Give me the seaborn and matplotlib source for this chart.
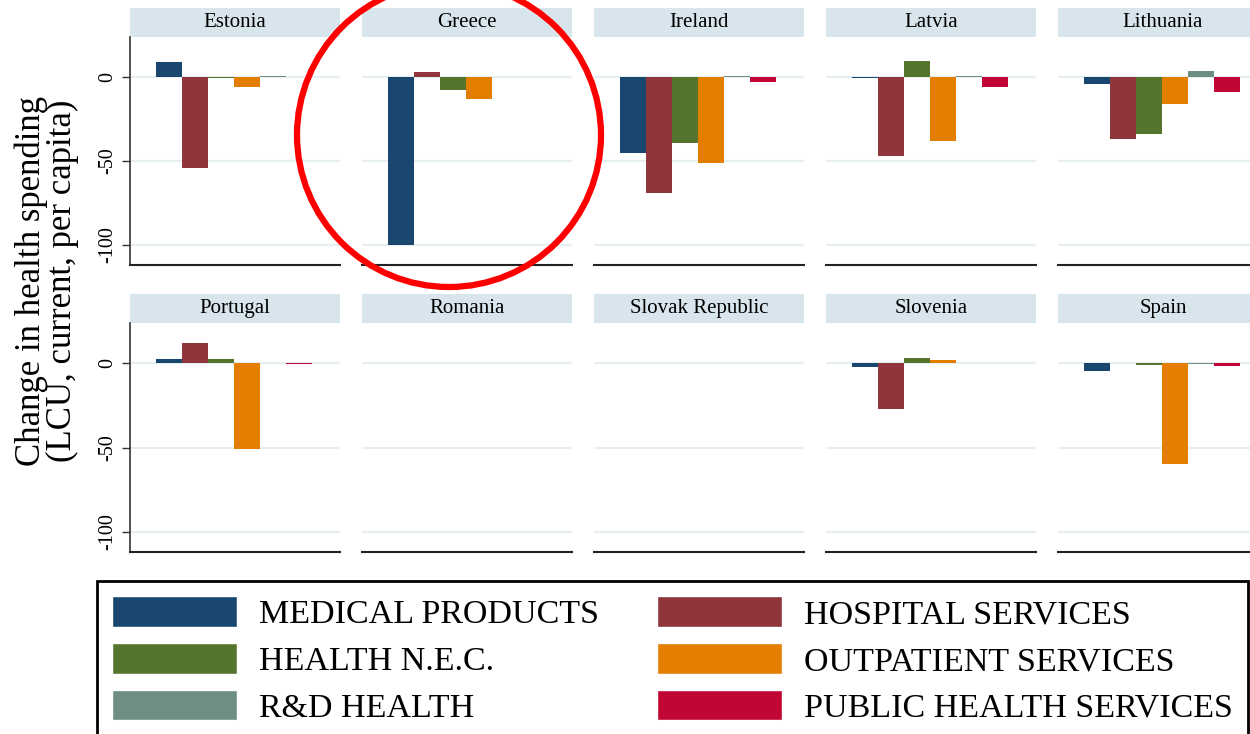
import numpy as np
import pandas as pd
import seaborn as sns
import matplotlib.pyplot as plt
from matplotlib.patches import Patch, Rectangle, Ellipse

# values (change in health spending, LCU per capita)
countries = ["Estonia", "Greece", "Ireland", "Latvia", "Lithuania",
             "Portugal", "Romania", "Slovak Republic", "Slovenia", "Spain"]
categories = ["MEDICAL PRODUCTS", "HOSPITAL SERVICES", "HEALTH N.E.C.",
              "OUTPATIENT SERVICES", "R&D HEALTH", "PUBLIC HEALTH SERVICES"]
colors = ["#1a476f", "#90353b", "#55752f", "#e37e00", "#6e8e84", "#c10534"]

nan = np.nan
medical    = [9, -100, -45, -0.5, -4, 2.5, nan, nan, -2, -4.5]
hospital   = [-54, 3, -69, -47, -37, 12, nan, nan, -27, 0]
health_nec = [-0.6, -7.5, -39, 9.5, -34, 2.5, nan, nan, 3, -1]
outpatient = [-6, -13, -51, -38, -16, -51, nan, nan, 2, -60]
rd_health  = [0.5, nan, 0.5, 0.5, 4, 0.5, nan, nan, 0.5, -0.5]
public     = [0.4, nan, -3, -6, -9, -0.6, nan, nan, 0.4, -1.5]

wide = pd.DataFrame({"country": countries,
                     categories[0]: medical, categories[1]: hospital,
                     categories[2]: health_nec, categories[3]: outpatient,
                     categories[4]: rd_health, categories[5]: public})
df = wide.melt(id_vars="country", var_name="category", value_name="value")
pal = dict(zip(categories, colors))

sns.set_style("white")
plt.rcParams['font.family'] = ['Liberation Serif', 'DejaVu Serif']
plt.rcParams['axes.unicode_minus'] = False
plt.rcParams['text.color'] = 'black'
plt.rcParams['ytick.color'] = 'black'

W, H = 1250, 734
fig = plt.figure(figsize=(W / 100, H / 100), dpi=100)

col_left = [130, 362, 594, 826, 1058]
pw = 210
rows = [(37, 265), (323, 552)]
strip_px = 29

for i, c in enumerate(countries):
    r, k = divmod(i, 5)
    top, bot = rows[r]
    ax = fig.add_axes([col_left[k] / W, 1 - bot / H, pw / W, (bot - top) / H])
    sub = df[df["country"] == c].dropna()
    if len(sub):
        sns.barplot(data=sub, x="category", y="value", hue="category",
                    order=categories, hue_order=categories, palette=pal,
                    width=1, saturation=1, errorbar=None, legend=False,
                    linewidth=0, ax=ax)
    ax.set_xlim(-1.5, 6.58)
    ax.set_ylim(-112, 24)
    ax.set_yticks([0, -50, -100])
    ax.set_xticks([])
    ax.set_xlabel("")
    ax.set_ylabel("")
    ax.set_axisbelow(True)
    ax.yaxis.grid(True, color="#e6eef2", lw=1.6)
    for s in ["top", "right"]:
        ax.spines[s].set_visible(False)
    ax.spines["bottom"].set_color("#222222")
    ax.spines["bottom"].set_linewidth(1.5)
    if k == 0:
        ax.spines["left"].set_color("#333333")
        ax.spines["left"].set_linewidth(1.2)
        ax.tick_params(axis="y", left=True, length=6, width=1, color="#333333",
                       labelsize=14.5, labelrotation=90, pad=3)
        for lab in ax.get_yticklabels():
            lab.set_va("center")
    else:
        ax.spines["left"].set_visible(False)
        ax.tick_params(axis="y", left=False, labelleft=False)

    sh = strip_px / (bot - top)
    ax.add_patch(Rectangle((0, 1.002), 1, sh, transform=ax.transAxes,
                           clip_on=False, facecolor="#d9e5ec", edgecolor="none"))
    ax.text(0.5, 1.002 + sh / 2, c, transform=ax.transAxes, ha="center",
            va="center", fontsize=15)

fig.text(47 / W, 1 - 281 / H,
         "Change in health spending\n(LCU, current, per capita)",
         rotation=90, ha="center", va="center", fontsize=25, linespacing=0.9)

# legend, column-wise order as in the reference
order = [0, 2, 4, 1, 3, 5]
handles = [Patch(facecolor=colors[j], label=categories[j]) for j in order]
leg = fig.legend(handles=handles, loc="upper left",
                 bbox_to_anchor=(97 / W, 1 - 581 / H), ncol=2, fontsize=24.5,
                 frameon=True, fancybox=False, edgecolor="black", framealpha=1,
                 handlelength=3.67, handleheight=1.0, handletextpad=0.65,
                 columnspacing=1.7, labelspacing=0.38, borderpad=0.45,
                 borderaxespad=0)
leg.get_frame().set_linewidth(2)

# red highlight circle around Greece
fig.patches.append(Ellipse((449 / W, 1 - 135 / H), 2 * 152 / W, 2 * 152 / H,
                           transform=fig.transFigure, fill=False,
                           edgecolor="#ff0000", lw=4.5, zorder=10))

fig.savefig("out.png", dpi=100)
